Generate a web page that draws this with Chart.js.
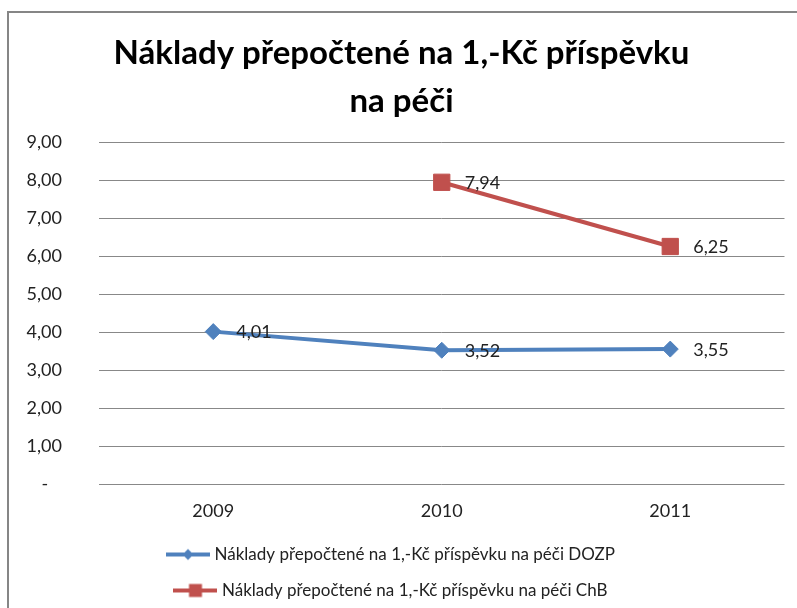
<!DOCTYPE html>
<html>
<head>
<meta charset="utf-8">
<script src="https://cdn.jsdelivr.net/npm/chart.js@4/dist/chart.umd.min.js"></script>
<style>
  html, body { margin: 0; padding: 0; background: #fff; overflow: hidden; width: 797px; height: 608px; }
  #frame { position: absolute; left: 7px; top: 11px; width: 900px; height: 800px; border-left: 2px solid #868686; border-top: 2px solid #868686; }
  #wrap { position: absolute; left: 0; top: 0; width: 797px; height: 609px; }
</style>
</head>
<body>
<div id="frame"></div>
<div id="wrap"><canvas id="c" width="797" height="609"></canvas></div>
<script>
const titleLines = ['Náklady přepočtené na 1,-Kč příspěvku', 'na péči'];
const categories = ['2009', '2010', '2011'];
const seriesNames = ['Náklady přepočtené na 1,-Kč příspěvku na péči DOZP', 'Náklady přepočtené na 1,-Kč příspěvku na péči ChB'];
const dozpValues = [4.01, 3.52, 3.55];
const chbValues = [null, 7.94, 6.25];
const yTickLabels = ['-   ', '1,00', '2,00', '3,00', '4,00', '5,00', '6,00', '7,00', '8,00', '9,00'];

const BLUE = '#4F81BD';
const RED = '#C0504D';
const TEXT = '#222222';
const FONT = 'Lato, Calibri, "Open Sans", sans-serif';

function legendIcon(color, shape) {
  const cv = document.createElement('canvas');
  cv.width = 44; cv.height = 16;
  const g = cv.getContext('2d');
  g.strokeStyle = color; g.lineWidth = 4;
  g.beginPath(); g.moveTo(0, 8); g.lineTo(44, 8); g.stroke();
  g.fillStyle = color;
  if (shape === 'diamond') {
    g.beginPath(); g.moveTo(22, 2.5); g.lineTo(27.5, 8); g.lineTo(22, 13.5); g.lineTo(16.5, 8); g.closePath(); g.fill();
  } else {
    g.fillRect(15.5, 1.5, 13, 13);
  }
  return cv;
}
const icons = [legendIcon(BLUE, 'diamond'), legendIcon(RED, 'square')];

const dataLabels = {
  id: 'dataLabels',
  afterDatasetsDraw(chart) {
    const ctx = chart.ctx;
    ctx.save();
    ctx.font = '18px ' + FONT;
    ctx.fillStyle = TEXT;
    ctx.textAlign = 'left';
    ctx.textBaseline = 'middle';
    chart.data.datasets.forEach((ds, di) => {
      const meta = chart.getDatasetMeta(di);
      meta.data.forEach((pt, i) => {
        const v = ds.data[i];
        if (v === null || v === undefined) return;
        ctx.fillText(v.toFixed(2).replace('.', ','), pt.x + 23, pt.y + 1);
      });
    });
    ctx.restore();
  }
};

const titleShift = {
  id: 'titleShift',
  afterLayout(chart) {
    if (chart.titleBlock) chart.titleBlock.left += 18;
  }
};

new Chart(document.getElementById('c'), {
  type: 'line',
  data: {
    labels: categories,
    datasets: [
      {
        label: seriesNames[0], data: dozpValues,
        borderColor: BLUE, backgroundColor: BLUE, borderWidth: 4,
        pointStyle: 'rectRot', pointRadius: 8, pointBorderWidth: 1,
        pointBackgroundColor: BLUE, pointBorderColor: BLUE, tension: 0
      },
      {
        label: seriesNames[1], data: chbValues,
        borderColor: RED, backgroundColor: RED, borderWidth: 4,
        pointStyle: 'rect', pointRadius: 11.5, pointBorderWidth: 1,
        pointBackgroundColor: RED, pointBorderColor: RED, tension: 0
      }
    ]
  },
  options: {
    responsive: false,
    animation: false,
    events: [],
    layout: { padding: { left: 0, right: 12, top: 0, bottom: 0 } },
    plugins: {
      title: {
        display: true,
        text: titleLines,
        color: '#000',
        font: { family: FONT, size: 33, weight: 'bold', lineHeight: '48px' },
        padding: { top: 29, bottom: 17 }
      },
      legend: {
        position: 'bottom',
        align: 'center',
        labels: {
          usePointStyle: true,
          pointStyleWidth: 36,
          boxHeight: 16,
          padding: 19,
          color: TEXT,
          font: { family: FONT, size: 17 },
          generateLabels(chart) {
            return chart.data.datasets.map((ds, i) => ({
              text: ds.label,
              pointStyle: icons[i],
              fillStyle: ds.borderColor,
              strokeStyle: ds.borderColor,
              lineWidth: 0,
              hidden: false,
              datasetIndex: i,
              fontColor: TEXT
            }));
          }
        }
      },
      tooltip: { enabled: false }
    },
    scales: {
      x: {
        offset: true,
        grid: { display: false, drawTicks: false },
        border: { display: false },
        ticks: { color: TEXT, font: { family: FONT, size: 18 }, padding: 16 },
        afterFit(scale) { scale.height = 43; }
      },
      y: {
        min: 0, max: 9,
        grid: { color: '#888888', lineWidth: 1, drawTicks: false },
        border: { display: false },
        ticks: {
          stepSize: 1,
          padding: 37,
          color: TEXT,
          font: { family: FONT, size: 18 },
          callback: (value) => yTickLabels[Math.round(value)]
        },
        afterFit(scale) { scale.width = 99; }
      }
    }
  },
  plugins: [dataLabels, titleShift]
});
</script>
</body>
</html>
